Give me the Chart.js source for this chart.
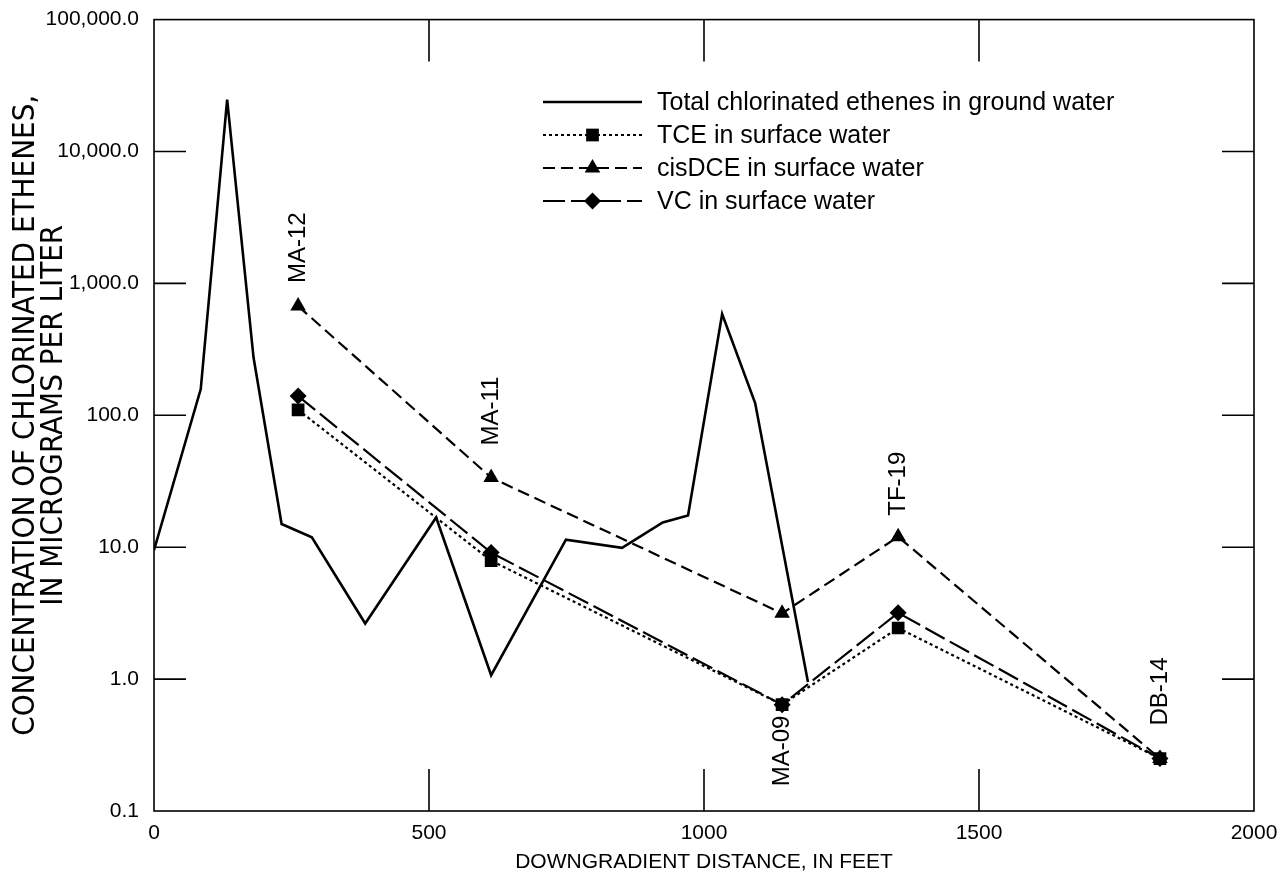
<!DOCTYPE html>
<html lang="en">
<head>
<meta charset="UTF-8">
<title>Chlorinated ethenes along the downgradient distance</title>
<script src="https://cdn.jsdelivr.net/npm/chart.js@4.4.1/dist/chart.umd.min.js"></script>
<style>
  html, body { margin: 0; padding: 0; background: #fff; }
</style>
</head>
<body>
<canvas id="concChart" width="1281" height="878"></canvas>
<script>
// ground water profile (distance in feet, concentration in ug/L)
const groundDistance = [0, 85, 133, 181, 232, 287, 384, 513, 613, 749, 851, 925, 971, 1033, 1093, 1189];
const groundTotal = [9.5, 158, 24700, 274, 15.0, 11.9, 2.64, 16.8, 1.07, 11.4, 9.9, 15.4, 17.4, 586, 124, 0.95];

// surface water stations
const stationNames = ['MA-12', 'MA-11', 'MA-09', 'TF-19', 'DB-14'];
const stationDistance = [262, 613, 1142, 1353, 1829];
const tceSurface = [110, 7.9, 0.64, 2.44, 0.25];
const cisDceSurface = [673, 33.7, 3.15, 12.0, 0.25];
const vcSurface = [140, 9.1, 0.64, 3.18, 0.25];

// axes
const xTickValues = [0, 500, 1000, 1500, 2000];
const xTickLabels = ['0', '500', '1000', '1500', '2000'];
const yTickValues = [0.1, 1, 10, 100, 1000, 10000, 100000];
const yTickLabels = ['0.1', '1.0', '10.0', '100.0', '1,000.0', '10,000.0', '100,000.0'];

const FONT = "'Liberation Sans', Arial, Helvetica, sans-serif";

function pairs(xs, ys) {
    return xs.map((v, i) => ({ x: v, y: ys[i] }));
}

// frame with inward tick marks on all four sides
const frameTicks = {
    id: 'frameTicks',
    beforeDatasetsDraw(chart) {
        const { ctx, chartArea: a, scales: { x, y } } = chart;
        ctx.save();
        ctx.strokeStyle = '#000';
        ctx.lineWidth = 1.6;
        ctx.strokeRect(a.left, a.top, a.right - a.left, a.bottom - a.top);
        ctx.beginPath();
        xTickValues.slice(1, -1).forEach(v => {
            const px = x.getPixelForValue(v);
            ctx.moveTo(px, a.bottom); ctx.lineTo(px, a.bottom - 42);
            ctx.moveTo(px, a.top); ctx.lineTo(px, a.top + 42);
        });
        yTickValues.slice(1, -1).forEach(v => {
            const py = y.getPixelForValue(v);
            ctx.moveTo(a.left, py); ctx.lineTo(a.left + 32, py);
            ctx.moveTo(a.right, py); ctx.lineTo(a.right - 32, py);
        });
        ctx.stroke();
        ctx.restore();
    }
};

// rotated station names next to the surface water markers
const stationLabels = {
    id: 'stationLabels',
    afterDatasetsDraw(chart) {
        const { ctx, scales: { x, y } } = chart;
        const gap = [23, 32, 11, 21, 33];
        const below = [false, false, true, false, false];
        ctx.save();
        ctx.font = '24px ' + FONT;
        ctx.fillStyle = '#000';
        ctx.textBaseline = 'middle';
        stationNames.forEach((name, i) => {
            const vals = [tceSurface[i], cisDceSurface[i], vcSurface[i]];
            const px = x.getPixelForValue(stationDistance[i]);
            let py;
            if (below[i]) {
                py = y.getPixelForValue(Math.min(...vals)) + gap[i];
            } else {
                py = y.getPixelForValue(Math.max(...vals)) - gap[i];
            }
            ctx.save();
            ctx.translate(px, py);
            ctx.rotate(-Math.PI / 2);
            ctx.textAlign = below[i] ? 'right' : 'left';
            ctx.fillText(name, 0, 0);
            ctx.restore();
        });
        ctx.restore();
    }
};

// legend in the upper right of the plot
const legendBox = {
    id: 'legendBox',
    afterDraw(chart) {
        const { ctx } = chart;
        const x0 = 543, x1 = 642, tx = 657, top = 102, step = 33;
        chart.data.datasets.forEach((ds, i) => {
            const yy = top + i * step;
            ctx.save();
            ctx.strokeStyle = '#000';
            ctx.lineWidth = ds.borderWidth;
            ctx.setLineDash(ds.borderDash || []);
            ctx.beginPath();
            ctx.moveTo(x0, yy);
            ctx.lineTo(x1, yy);
            ctx.stroke();
            ctx.setLineDash([]);
            if (ds.pointRadius > 0) {
                ctx.fillStyle = '#000';
                Chart.helpers.drawPoint(ctx, {
                    pointStyle: ds.pointStyle, radius: ds.pointRadius, rotation: 0, borderWidth: 0
                }, (x0 + x1) / 2, yy);
            }
            ctx.font = '25px ' + FONT;
            ctx.fillStyle = '#000';
            ctx.textBaseline = 'middle';
            ctx.fillText(ds.label, tx, yy + 1);
            ctx.restore();
        });
    }
};

const ctx = document.getElementById('concChart').getContext('2d');
const chart = new Chart(ctx, {
    type: 'line',
    data: {
        datasets: [
            {
                label: 'Total chlorinated ethenes in ground water',
                data: pairs(groundDistance, groundTotal),
                borderColor: '#000',
                borderWidth: 2.6,
                pointRadius: 0,
                tension: 0
            },
            {
                label: 'TCE in surface water',
                data: pairs(stationDistance, tceSurface),
                borderColor: '#000',
                backgroundColor: '#000',
                borderWidth: 2.2,
                borderDash: [3, 3],
                pointStyle: 'rect',
                pointRadius: 9,
                pointBorderWidth: 0
            },
            {
                label: 'cisDCE in surface water',
                data: pairs(stationDistance, cisDceSurface),
                borderColor: '#000',
                backgroundColor: '#000',
                borderWidth: 2.2,
                borderDash: [12, 6],
                pointStyle: 'triangle',
                pointRadius: 9,
                pointBorderWidth: 0
            },
            {
                label: 'VC in surface water',
                data: pairs(stationDistance, vcSurface),
                borderColor: '#000',
                backgroundColor: '#000',
                borderWidth: 2.2,
                borderDash: [22, 6],
                pointStyle: 'rectRot',
                pointRadius: 8.5,
                pointBorderWidth: 0
            }
        ]
    },
    options: {
        responsive: false,
        animation: false,
        devicePixelRatio: 1,
        layout: { padding: { left: 0, top: 18, right: 27, bottom: 0 } },
        plugins: {
            legend: { display: false },
            tooltip: { enabled: false }
        },
        scales: {
            x: {
                type: 'linear',
                min: 0,
                max: 2000,
                afterBuildTicks: scale => { scale.ticks = xTickValues.map(v => ({ value: v })); },
                afterFit: scale => { scale.height = 67; },
                grid: { display: false },
                border: { display: false },
                ticks: {
                    color: '#000',
                    padding: 2,
                    font: { size: 21, family: FONT },
                    callback: (value, index) => xTickLabels[index]
                },
                title: {
                    display: true,
                    text: 'DOWNGRADIENT DISTANCE, IN FEET',
                    color: '#000',
                    font: { size: 21, family: FONT },
                    padding: { top: 0, bottom: 3 }
                }
            },
            y: {
                type: 'logarithmic',
                min: 0.1,
                max: 100000,
                afterBuildTicks: scale => { scale.ticks = yTickValues.map(v => ({ value: v })); },
                afterFit: scale => { scale.width = 154; },
                grid: { display: false },
                border: { display: false },
                ticks: {
                    color: '#000',
                    padding: 7,
                    font: { size: 21, family: FONT },
                    callback: (value, index) => yTickLabels[index]
                },
                title: {
                    display: true,
                    text: ['CONCENTRATION OF CHLORINATED ETHENES,', 'IN MICROGRAMS PER LITER'],
                    color: '#000',
                    font: { size: 31, family: "'Liberation Sans Narrow', 'DejaVu Sans Condensed', " + FONT, lineHeight: 0.9 },
                    padding: { top: 12, bottom: 0 }
                }
            }
        }
    },
    plugins: [frameTicks, stationLabels, legendBox]
});
</script>
</body>
</html>
